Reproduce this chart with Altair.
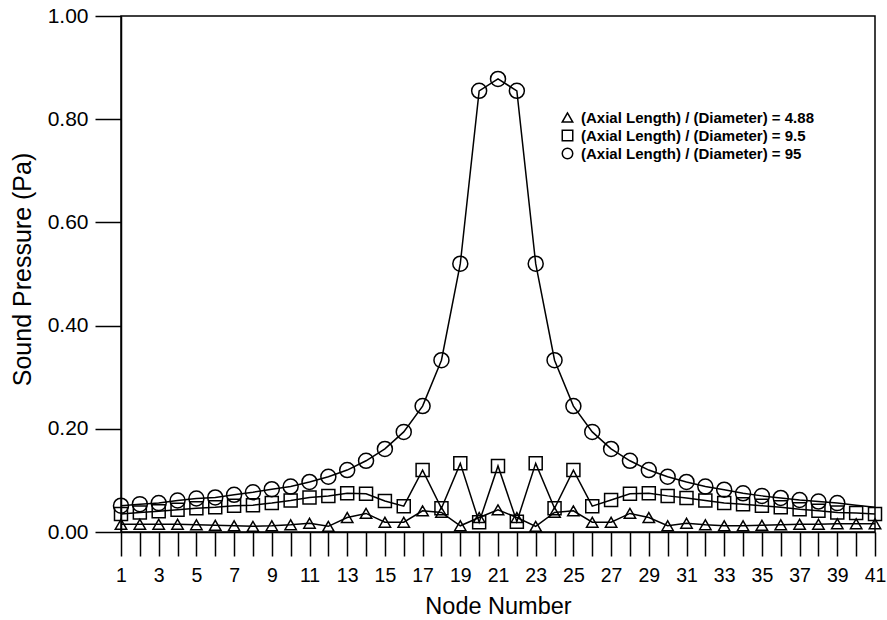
import altair as alt
import pandas as pd

# ---- data ----
nodes = list(range(1, 42))
y_ticks = [0.0, 0.2, 0.4, 0.6, 0.8, 1.0]
labels = [
    "(Axial Length) / (Diameter) = 4.88",
    "(Axial Length) / (Diameter) = 9.5",
    "(Axial Length) / (Diameter) = 95",
]
p_4_88 = [0.015, 0.015, 0.015, 0.015, 0.014, 0.013, 0.012, 0.011, 0.012, 0.014,
          0.017, 0.011, 0.028, 0.036, 0.019, 0.019, 0.041, 0.038, 0.012, 0.028,
          0.043, 0.028, 0.011, 0.038, 0.041, 0.019, 0.019, 0.036, 0.028, 0.012,
          0.017, 0.014, 0.012, 0.012, 0.013, 0.014, 0.015, 0.015, 0.016, 0.016,
          0.016]
p_9_5 = [0.035, 0.038, 0.040, 0.043, 0.046, 0.048, 0.051, 0.052, 0.056, 0.061,
         0.067, 0.070, 0.075, 0.074, 0.060, 0.050, 0.120, 0.046, 0.133, 0.019,
         0.128, 0.020, 0.133, 0.046, 0.120, 0.050, 0.062, 0.074, 0.075, 0.070,
         0.066, 0.061, 0.056, 0.054, 0.051, 0.048, 0.044, 0.041, 0.038, 0.037,
         0.035]
p_95 = [0.051, 0.054, 0.056, 0.061, 0.065, 0.067, 0.072, 0.077, 0.083, 0.088,
        0.097, 0.107, 0.120, 0.138, 0.161, 0.194, 0.244, 0.333, 0.520, 0.855,
        0.878, 0.855, 0.520, 0.333, 0.244, 0.194, 0.161, 0.138, 0.120, 0.107,
        0.097, 0.088, 0.082, 0.075, 0.070, 0.066, 0.062, 0.059, 0.056, 0.052,
        0.048]
last_circle_marker = 39
shapes = ["triangle-up", "square", "circle"]
marker_sizes = [130, 169, 225]

rows = []
for lab, vals in zip(labels, [p_4_88, p_9_5, p_95]):
    for n, v in zip(nodes, vals):
        rows.append({"node": n, "p": v, "series": lab})
df = pd.DataFrame(rows)

FONT = "Liberation Sans"

x = alt.X(
    "node:Q",
    scale=alt.Scale(domain=[1, 41], nice=False, zero=False),
    axis=alt.Axis(
        values=nodes,
        labelExpr="datum.value % 2 == 1 ? datum.label : ''",
        title="Node Number",
        tickSize=24,
        labelPadding=10,
        labelFontSize=19.5,
        titleFontSize=23.5,
        titleY=81,
        titleBaseline="alphabetic",
        labelFlush=False,
        labelOverlap=False,
    ),
)
y = alt.Y(
    "p:Q",
    scale=alt.Scale(domain=[0, 1], nice=False),
    axis=alt.Axis(
        values=y_ticks,
        format=".2f",
        title="Sound Pressure (Pa)",
        tickSize=26,
        labelPadding=7,
        labelFontSize=21,
        titleFontSize=25,
        titleX=-91,
        titleY=253,
        titleAngle=-90,
        titleAlign="center",
        titleBaseline="alphabetic",
        labelFlush=False,
    ),
)

shape = alt.Shape(
    "series:N",
    scale=alt.Scale(domain=labels, range=shapes),
    legend=alt.Legend(
        title=None,
        orient="none",
        legendX=439,
        legendY=94,
        padding=0,
        symbolSize=110,
        symbolStrokeWidth=1.5,
        symbolStrokeColor="black",
        symbolFillColor="transparent",
        labelFontSize=15,
        labelFontWeight="bold",
        labelFont=FONT,
        labelColor="black",
        labelOffset=6,
        rowPadding=1,
        labelLimit=400,
    ),
)

base = alt.Chart(df)

lines = base.mark_line(color="black", strokeWidth=1.5).encode(
    x=x, y=y, detail="series:N"
)

layers = [lines]
for lab, sz in zip(labels, marker_sizes):
    flt = alt.datum.series == lab
    if lab == labels[2]:
        flt = (alt.datum.series == lab) & (alt.datum.node <= last_circle_marker)
    layers.append(
        base.transform_filter(flt)
        .mark_point(filled=False, color="black", strokeWidth=1.5, opacity=1, size=sz)
        .encode(x=x, y=y, shape=shape)
    )

chart = (
    alt.layer(*layers)
    .properties(
        width=754,
        height=516,
        autosize=alt.AutoSizeParams(type="none"),
        padding={"left": 121, "top": 16, "right": 12, "bottom": 88},
        background="white",
    )
    .configure_view(stroke="black", strokeWidth=1.5)
    .configure_axis(
        grid=False,
        domainColor="black",
        domainWidth=1.5,
        tickColor="black",
        tickWidth=1.5,
        labelColor="black",
        titleColor="black",
        labelFont=FONT,
        titleFont=FONT,
        titleFontWeight="normal",
    )
)

chart.save("out.html", embed_options={"renderer": "svg", "actions": False})
